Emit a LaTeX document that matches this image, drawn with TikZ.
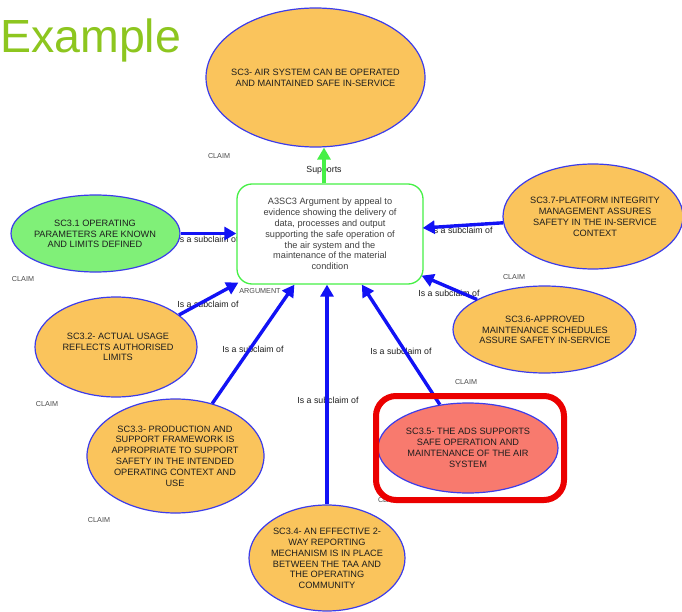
\documentclass[tikz,border=0pt]{standalone}
\usepackage{fontspec}
\setmainfont{Liberation Sans}
\usetikzlibrary{shapes.geometric,arrows.meta,calc}

\definecolor{claimorange}{RGB}{250,196,92}
\definecolor{claimgreen}{RGB}{128,240,120}
\definecolor{claimred}{RGB}{248,122,110}
\definecolor{edgeblue}{RGB}{18,18,245}
\definecolor{rimblue}{RGB}{60,60,235}
\definecolor{arggreen}{RGB}{70,240,70}
\definecolor{titlegreen}{RGB}{141,198,31}
\definecolor{inkgray}{RGB}{30,30,30}
\definecolor{framered}{RGB}{235,0,0}

\begin{document}
\begin{tikzpicture}[x=1pt,y=-1pt,
  claim/.style={ellipse, draw=rimblue, line width=1.2pt, fill=claimorange, inner sep=0pt},
  claimtext/.style={align=center, font=\fontsize{9.2}{10.8}\selectfont, text=inkgray, inner sep=0pt},
  argbox/.style={draw=arggreen, line width=1.3pt, rounded corners=15pt, fill=white,
    minimum width=186pt, minimum height=100pt, align=center,
    font=\fontsize{9.2}{10.8}\selectfont, text=inkgray!85},
  subclaim/.style={draw=edgeblue, line width=3.4pt, -{Triangle[length=12pt,width=13pt]}},
  supports/.style={draw=arggreen, line width=3.4pt, -{Triangle[length=12pt,width=13pt]}},
  edgelabel/.style={font=\fontsize{8.8}{10}\selectfont, text=inkgray, inner sep=0pt},
  tag/.style={font=\fontsize{7.2}{8}\selectfont, text=inkgray!80, inner sep=0pt},
]
\useasboundingbox (0,0) rectangle (682,612);
\clip (0,0) rectangle (682,612);
\fill[white] (0,0) rectangle (682,612);

% heading
\node[anchor=base west, inner sep=0pt, text=titlegreen, font=\fontsize{46.5}{50}\selectfont]
  (title) at (0,53) {Example};

% element kind tags
\node[tag] (tag0) at (219,156) {CLAIM};
\node[tag] (tag1) at (23,279) {CLAIM};
\node[tag] (tag7) at (514,277) {CLAIM};
\node[tag] (tag6) at (466,382) {CLAIM};
\node[tag] (tag2) at (47,404) {CLAIM};
\node[tag] (tag3) at (99,520) {CLAIM};
\node[tag] (tag5) at (389,500) {CLAIM};
\node[tag] (tagA) at (260,291) {ARGUMENT};

% connector labels
\node[edgelabel] (l31) at (208,239) {Is a subclaim of};
\node[edgelabel] (l37) at (462,230) {Is a subclaim of};
\node[edgelabel] (l36) at (449,293) {Is a subclaim of};
\node[edgelabel] (l32) at (208,304) {Is a subclaim of};
\node[edgelabel] (l33) at (253,349) {Is a subclaim of};
\node[edgelabel] (l34) at (328,400) {Is a subclaim of};
\node[edgelabel] (l35) at (401,351) {Is a subclaim of};
\node[edgelabel] (lsup) at (324,170) {Supports};

% claims
\node[claim, minimum width=219pt, minimum height=139pt] (sc3) at (315.5,77.5) {};
\node[claim, fill=claimgreen, minimum width=169pt, minimum height=77pt] (sc31) at (95.5,233.5) {};
\node[claim, minimum width=180pt, minimum height=105pt] (sc37) at (593,216.5) {};
\node[claim, minimum width=183pt, minimum height=87pt] (sc36) at (544.5,329.5) {};
\node[claim, minimum width=162pt, minimum height=100pt] (sc32) at (116,347) {};
\node[claim, minimum width=177pt, minimum height=114pt] (sc33) at (175.5,456) {};
\node[claim, minimum width=156pt, minimum height=106pt] (sc34) at (327,558) {};
\node[claim, fill=claimred, minimum width=180pt, minimum height=90pt] (sc35) at (468,448) {};

\node[claimtext] (sc3t) at (sc3.center) {SC3- AIR SYSTEM CAN BE OPERATED\\AND MAINTAINED SAFE IN-SERVICE};
\node[claimtext] (sc31t) at (95,234) {SC3.1 OPERATING\\PARAMETERS ARE KNOWN\\AND LIMITS DEFINED};
\node[claimtext] (sc37t) at (595,217) {SC3.7-PLATFORM INTEGRITY\\MANAGEMENT ASSURES\\SAFETY IN THE IN-SERVICE\\CONTEXT};
\node[claimtext] (sc36t) at (545,330) {SC3.6-APPROVED\\MAINTENANCE SCHEDULES\\ASSURE SAFETY IN-SERVICE};
\node[claimtext] (sc32t) at (118,347) {SC3.2- ACTUAL USAGE\\REFLECTS AUTHORISED\\LIMITS};
\node[claimtext] (sc33t) at (175,456) {SC3.3- PRODUCTION AND\\SUPPORT FRAMEWORK IS\\APPROPRIATE TO SUPPORT\\SAFETY IN THE INTENDED\\OPERATING CONTEXT AND\\USE};
\node[claimtext] (sc34t) at (327,558.5) {SC3.4- AN EFFECTIVE 2-\\WAY REPORTING\\MECHANISM IS IN PLACE\\BETWEEN THE TAA AND\\THE OPERATING\\COMMUNITY};
\node[claimtext] (sc35t) at (sc35.center) {SC3.5- THE ADS SUPPORTS\\SAFE OPERATION AND\\MAINTENANCE OF THE AIR\\SYSTEM};

% argument
\node[argbox] (box) at (330,234) {A3SC3 Argument by appeal to\\evidence showing the delivery of\\data, processes and output\\supporting the safe operation of\\the air system and the\\maintenance of the material\\condition};

% connectors
\draw[subclaim] (sc31.east) -- (sc31.east -| box.west);
\draw[subclaim] (sc37.184) -- ($(box.east)+(-1,-6)$);
\draw[subclaim] (sc36.156) -- ($(box.south east)+(-2,-9)$);
\draw[subclaim] (sc32.27) -- ($(box.south west)+(2,-2)$);
\draw[subclaim] (sc33.55) -- ($(box.south west)!0.31!(box.south east)$);
\draw[subclaim] (sc34.north) -- (sc34.north |- box.south);
\draw[subclaim] (sc35.123) -- ($(box.south west)!0.67!(box.south east)$);
\draw[supports] ($(box.north)+(-6,0)$) -- ($(sc3.south)+(8.5,0)$);

% highlight frame
\draw[framered, line width=6pt, rounded corners=20pt] (376,396) rectangle (564,500);
\end{tikzpicture}
\end{document}
